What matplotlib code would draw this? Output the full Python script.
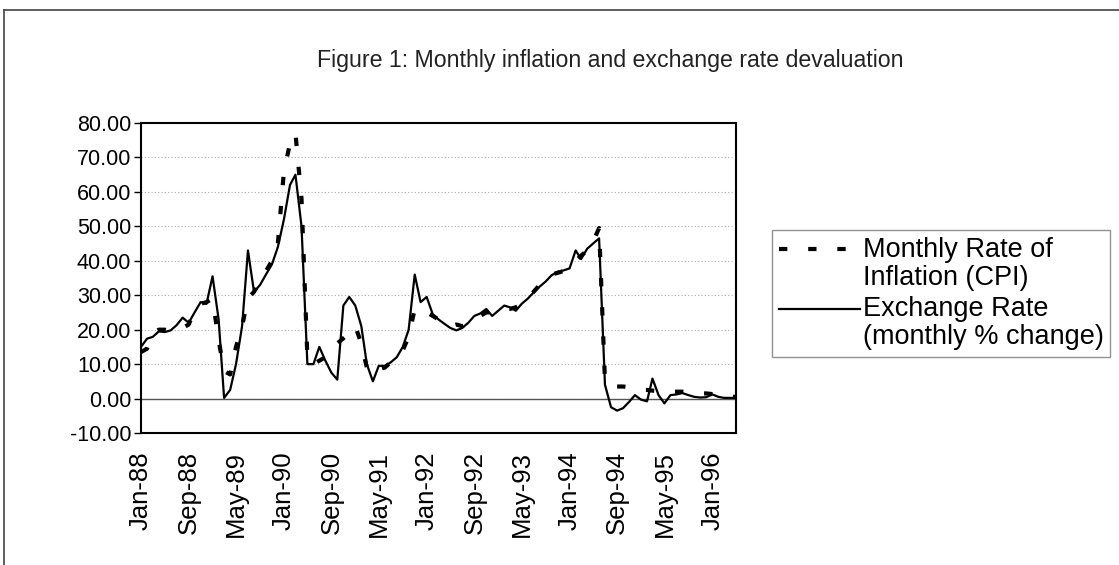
import matplotlib
matplotlib.use("Agg")
import matplotlib.pyplot as plt
import pandas as pd
from matplotlib.lines import Line2D
from matplotlib.legend_handler import HandlerLine2D

plt.rcParams['font.family'] = ['Liberation Sans', 'DejaVu Sans']
plt.rcParams['axes.unicode_minus'] = False

# monthly data, Jan-88 onwards
months = pd.date_range('1988-01-01', periods=101, freq='MS')

inflation = [13.5, 14.5, 19, 20, 20, 19.5, 20, 20.5, 21.5, 25.5,
             27.5, 28, 29, 17, 8, 7, 15, 21, 29, 31,
             34, 37, 40, 45, 66, 74, 77, 58, 12, 10,
             11, 12, 13, 16, 17.5, 19, 21, 16, 9, 7,
             8.5, 9, 10.5, 12.5, 14, 18, 26, 25, 25, 24,
             23, 22, 21, 21.5, 21, 22, 23, 24, 25, 25,
             25.5, 26, 26, 26.5, 27.5, 29, 31, 33, 34.5, 36,
             36.5, 37, 38, 40, 41.5, 43, 45.5, 49.5, 5, 4,
             3.5, 3.5, 3.3, 2.8, 2.5, 2.5, 2.3, 2.2, 2, 2,
             2, 2, 1.8, 1.6, 1.5, 1.5, 1.3, 1, 0.8, 0.6,
             0.5]

exchange = [15, 17.4, 17.9, 19.5, 19.3, 19.8, 21.3, 23.5, 22, 25,
            28, 27.5, 35.5, 23, 0.2, 2.5, 10, 21, 43, 31,
            33, 36, 39, 44, 52, 62, 65, 50, 10, 10,
            15, 11, 7.5, 5.5, 27, 29.5, 27, 21, 10, 5,
            9.5, 9.5, 10.5, 12, 15, 20, 36, 28, 29.5, 24.5,
            23, 21.7, 20.5, 19.8, 20.5, 22, 24, 24.7, 26, 24,
            25.5, 27, 26.5, 25.5, 27.5, 29, 30.8, 32.5, 34, 35.8,
            36.8, 37.2, 37.8, 43, 40.5, 43.5, 45, 46.5, 4, -2.5,
            -3.5, -2.8, -1, 1, -0.3, -0.8, 5.8, 1, -1.4, 1,
            1.2, 1.6, 1, 0.5, 0.3, 0.4, 1.2, 0.5, 0.2, 0.2,
            0.2]

tick_months = months[::8]
tick_labels = [m.strftime('%b-%y') for m in tick_months]


class TopLine(HandlerLine2D):
    # put the legend key next to the first line of a two-line label
    def create_artists(self, legend, orig_handle, xdescent, ydescent, width, height, fontsize, trans):
        arts = super().create_artists(legend, orig_handle, xdescent, ydescent, width, height, fontsize, trans)
        for a in arts:
            a.set_ydata([y + 0.55 * fontsize for y in a.get_ydata()])
        return arts


fig = plt.figure(figsize=(11.19, 5.65), dpi=100)
ax = fig.add_axes([0.126, 0.2336, 0.5317, 0.5487])

l1, = ax.plot(months, inflation, color='black', lw=3, linestyle=(0, (2, 5)),
              dash_capstyle='butt', zorder=3)
l2, = ax.plot(months, exchange, color='black', lw=1.6, zorder=4)

ax.set_xlim(months[0], months[-1])
ax.set_ylim(-10, 80)
ax.set_yticks(range(-10, 81, 10))
ax.set_yticklabels(['%.2f' % v for v in range(-10, 81, 10)])
ax.set_xticks(tick_months)
ax.set_xticklabels(tick_labels, rotation=90)

ax.yaxis.grid(True, linestyle=(0, (1, 2)), color='#aaaaaa', lw=0.8)
ax.axhline(0, color='#555555', lw=1, zorder=2)
for s in ax.spines.values():
    s.set_linewidth(1.5)
ax.tick_params(axis='y', direction='out', length=5, width=1, labelsize=15.5, pad=2)
ax.tick_params(axis='x', length=0, labelsize=18.5, pad=13)

leg = fig.legend([l1, l2], ['Monthly Rate of\nInflation (CPI)', 'Exchange Rate\n(monthly % change)'],
                 loc='upper left', bbox_to_anchor=(0.690, 0.593), frameon=True, fancybox=False,
                 edgecolor='#777777', handlelength=3.0, handletextpad=0.1, fontsize=19.5,
                 labelspacing=0.2, borderpad=0.25, borderaxespad=0,
                 handler_map={Line2D: TopLine()})
leg.get_frame().set_linewidth(1.0)
for t in leg.get_texts():
    t.set_linespacing(1.1)

fig.text(0.5456, 0.893, 'Figure 1: Monthly inflation and exchange rate devaluation',
         ha='center', va='center', fontsize=16.7, color='#222222')

# outer frame (top and left edges visible)
fig.add_artist(Line2D([0.004, 0.004], [0, 0.982], transform=fig.transFigure, color='#444444', lw=1.2))
fig.add_artist(Line2D([0.004, 1], [0.982, 0.982], transform=fig.transFigure, color='#444444', lw=1.2))

fig.savefig('out.png', dpi=100)
